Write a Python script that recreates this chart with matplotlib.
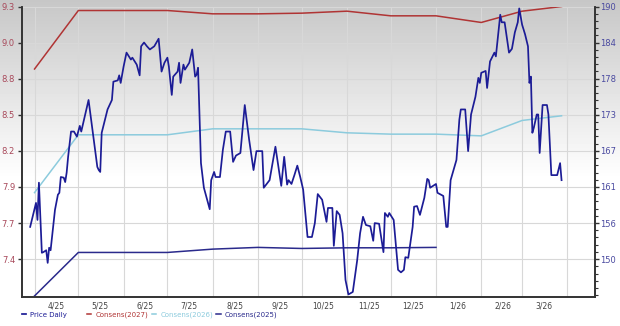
import numpy as np
import pandas as pd
import matplotlib
matplotlib.use("Agg")
import matplotlib.pyplot as plt
import matplotlib.dates as mdates
from matplotlib.ticker import AutoMinorLocator, NullFormatter

# daily price (right axis)
price_dates = [
    "2025-03-29", "2025-04-02", "2025-04-03", "2025-04-04", "2025-04-06", "2025-04-07",
    "2025-04-09", "2025-04-10", "2025-04-11", "2025-04-12", "2025-04-13", "2025-04-15",
    "2025-04-17", "2025-04-18", "2025-04-19", "2025-04-21", "2025-04-22", "2025-04-23",
    "2025-04-24", "2025-04-26", "2025-04-28", "2025-04-30", "2025-05-02", "2025-05-03",
    "2025-05-08", "2025-05-14", "2025-05-15", "2025-05-16", "2025-05-17", "2025-05-21",
    "2025-05-24", "2025-05-25", "2025-05-28", "2025-05-29", "2025-05-30", "2025-06-01",
    "2025-06-03", "2025-06-06", "2025-06-07", "2025-06-10", "2025-06-12", "2025-06-13",
    "2025-06-15", "2025-06-17", "2025-06-19", "2025-06-22", "2025-06-25", "2025-06-27",
    "2025-06-29", "2025-07-01", "2025-07-02", "2025-07-04", "2025-07-05", "2025-07-08",
    "2025-07-09", "2025-07-10", "2025-07-12", "2025-07-13", "2025-07-16", "2025-07-18",
    "2025-07-20", "2025-07-21", "2025-07-22", "2025-07-24", "2025-07-26", "2025-07-30",
    "2025-07-31", "2025-08-02", "2025-08-03", "2025-08-06", "2025-08-08", "2025-08-10",
    "2025-08-13", "2025-08-15", "2025-08-17", "2025-08-20", "2025-08-23", "2025-08-26",
    "2025-08-29", "2025-08-31", "2025-09-04", "2025-09-05", "2025-09-09", "2025-09-13",
    "2025-09-17", "2025-09-19", "2025-09-21", "2025-09-22", "2025-09-24", "2025-09-26",
    "2025-09-28", "2025-09-30", "2025-10-02", "2025-10-05", "2025-10-08", "2025-10-10",
    "2025-10-12", "2025-10-15", "2025-10-18", "2025-10-19", "2025-10-22", "2025-10-23",
    "2025-10-25", "2025-10-27", "2025-10-29", "2025-10-31", "2025-11-02", "2025-11-05",
    "2025-11-08", "2025-11-10", "2025-11-12", "2025-11-14", "2025-11-17", "2025-11-19",
    "2025-11-20", "2025-11-23", "2025-11-26", "2025-11-27", "2025-11-29", "2025-11-30",
    "2025-12-03", "2025-12-06", "2025-12-08", "2025-12-10", "2025-12-11", "2025-12-13",
    "2025-12-16", "2025-12-17", "2025-12-19", "2025-12-21", "2025-12-24", "2025-12-26",
    "2025-12-27", "2025-12-28", "2026-01-01", "2026-01-02", "2026-01-06", "2026-01-08",
    "2026-01-09", "2026-01-11", "2026-01-15", "2026-01-17", "2026-01-18", "2026-01-21",
    "2026-01-23", "2026-01-25", "2026-01-28", "2026-01-30", "2026-01-31", "2026-02-01",
    "2026-02-04", "2026-02-05", "2026-02-07", "2026-02-10", "2026-02-11", "2026-02-14",
    "2026-02-15", "2026-02-17", "2026-02-20", "2026-02-22", "2026-02-24", "2026-02-26",
    "2026-02-27", "2026-03-01", "2026-03-03", "2026-03-05", "2026-03-06", "2026-03-07",
    "2026-03-08", "2026-03-09", "2026-03-11", "2026-03-12", "2026-03-13", "2026-03-15",
    "2026-03-18", "2026-03-19", "2026-03-21", "2026-03-25", "2026-03-27", "2026-03-28",
]
price_values = [
    155.1, 158.9, 156.2, 162.1, 151.0, 151.1,
    151.4, 149.4, 151.8, 151.4, 153.5, 157.8,
    160.2, 160.5, 163.0, 162.9, 162.2, 163.7,
    166.2, 170.2, 170.2, 169.4, 171.1, 170.2,
    175.2, 164.6, 164.1, 163.8, 170.0, 173.7,
    175.2, 178.1, 178.3, 179.1, 177.9, 180.5,
    182.7, 181.6, 181.9, 180.8, 179.1, 183.7,
    184.3, 183.7, 183.2, 183.7, 184.9, 179.7,
    181.1, 181.9, 180.5, 176.0, 178.9, 179.7,
    181.1, 177.9, 180.8, 180.0, 181.1, 183.2,
    178.9, 179.2, 180.3, 165.2, 161.3, 157.9,
    162.5, 163.8, 163.0, 163.0, 167.3, 170.2,
    170.2, 165.4, 166.4, 166.8, 174.4, 168.9,
    164.1, 167.1, 167.1, 161.3, 162.5, 167.8,
    161.6, 166.2, 161.8, 162.5, 161.9, 163.3,
    164.8, 163.0, 161.0, 153.5, 153.5, 155.7,
    160.3, 159.4, 155.9, 158.1, 158.1, 152.1,
    157.6, 157.0, 154.1, 146.7, 144.4, 144.8,
    149.8, 154.1, 156.7, 155.4, 155.2, 152.9,
    155.7, 155.6, 151.1, 157.3, 156.7, 157.3,
    156.2, 148.3, 147.9, 148.3, 150.3, 150.2,
    155.1, 158.3, 158.4, 157.0, 159.7, 162.7,
    162.5, 161.3, 161.9, 160.5, 160.0, 155.1,
    155.1, 162.5, 165.7, 172.1, 173.7, 173.7,
    167.1, 172.9, 175.7, 178.7, 177.9, 179.5,
    179.8, 177.1, 181.3, 182.7, 182.1, 188.7,
    187.5, 187.5, 182.7, 183.3, 185.9, 187.5,
    189.7, 187.1, 185.6, 183.7, 177.9, 178.9,
    170.0, 170.8, 172.9, 172.9, 166.8, 174.4,
    174.4, 172.9, 163.3, 163.3, 165.2, 162.5,
]

# monthly consensus estimates (left axis)
cons_dates = [
    "2025-04-01", "2025-05-01", "2025-06-01", "2025-07-01", "2025-08-01", "2025-09-01",
    "2025-10-01", "2025-11-01", "2025-12-01", "2026-01-01", "2026-02-01", "2026-03-01",
    "2026-03-28",
]
cons_2027 = [8.83, 9.27, 9.27, 9.27, 9.245, 9.245, 9.25, 9.265, 9.23, 9.23, 9.18, 9.265, 9.30]
cons_2026 = [7.90, 8.335, 8.335, 8.335, 8.38, 8.38, 8.38, 8.35, 8.34, 8.34, 8.327, 8.443, 8.478]
cons_2025 = [7.123, 7.45, 7.45, 7.45, 7.475, 7.488, 7.48, 7.485, 7.485, 7.488]

left_labels = ["7.4", "7.7", "7.9", "8.2", "8.5", "8.8", "9.0", "9.3"]
right_labels = ["150", "156", "161", "167", "173", "178", "184", "190"]
label_months = pd.date_range("2025-04-01", "2026-03-01", freq="MS")
legend_names = ["Price Daily", "Consens(2027)", "Consens(2026)", "Consens(2025)"]

price_dates = pd.to_datetime(price_dates)
cons_dates = pd.to_datetime(cons_dates)

fig = plt.figure(figsize=(6.2, 3.26), dpi=100)

# grey-to-white backdrop
bg = fig.add_axes([0, 0, 1, 1], zorder=-10)
rows = np.linspace(0, 1, 326)
shade = np.clip(0.78 + 0.22 * rows / 0.55, 0, 1)
bg.imshow(shade[:, None], cmap="gray", vmin=0, vmax=1, aspect="auto", extent=[0, 1, 0, 1])
bg.axis("off")

ax = fig.add_axes([0.0355, 0.089, 0.9242, 0.891])
ax.set_facecolor("none")
ax2 = ax.twinx()

l27, = ax.plot(cons_dates, cons_2027, color="#b03434", lw=1.1)
l26, = ax.plot(cons_dates, cons_2026, color="#8ccbdd", lw=1.1)
l25, = ax.plot(cons_dates[:len(cons_2025)], cons_2025, color="#2a2a8c", lw=1.1)
lp, = ax2.plot(price_dates, price_values, color="#1c1c96", lw=1.25)

ax.set_xlim(pd.Timestamp("2025-03-23 10:00"), pd.Timestamp("2026-04-19 22:00"))
ax.set_ylim(7.115, 9.3)
ax2.set_ylim(144.0, 190.0)

ax.set_yticks(np.linspace(7.4, 9.3, 8), left_labels)
ax2.set_yticks(np.linspace(150, 190, 8), right_labels)
ax2.yaxis.set_minor_locator(AutoMinorLocator(5))

ax.xaxis.set_major_locator(mdates.MonthLocator())
ax.xaxis.set_major_formatter(NullFormatter())
ax.set_xticks(label_months + pd.Timedelta(days=15),
              [f"{d.month}/{d:%y}" for d in label_months], minor=True)

ax.tick_params(axis="x", which="both", length=0, labelsize=5.5, labelcolor="#444444", pad=3)
ax.tick_params(axis="y", length=3, width=1, color="#333333", labelsize=6,
               labelcolor="#a8485a", pad=2)
ax2.tick_params(axis="y", which="major", length=3, width=1, color="#333333",
                labelsize=6, labelcolor="#4a4aa0", pad=1)
ax2.tick_params(axis="y", which="minor", length=2, width=0.8, color="#333333")

ax.grid(True, which="major", color="#d8d8d8", lw=0.8)
ax.set_axisbelow(True)

for a in (ax, ax2):
    a.spines["top"].set_visible(False)
    for s in ("left", "right", "bottom"):
        a.spines[s].set_color("#333333")
        a.spines[s].set_linewidth(1.2)

# one legend entry per slot, spaced like the original
for line, name, x0 in zip([lp, l27, l26, l25], legend_names, [0.0355, 0.140, 0.245, 0.349]):
    fig.legend([line], [name], loc="center left", bbox_to_anchor=(x0, 0.034),
               frameon=False, fontsize=5.0, handlelength=0.6, handletextpad=0.6,
               labelcolor="linecolor", borderaxespad=0, borderpad=0)

fig.savefig("out.png", dpi=100)
